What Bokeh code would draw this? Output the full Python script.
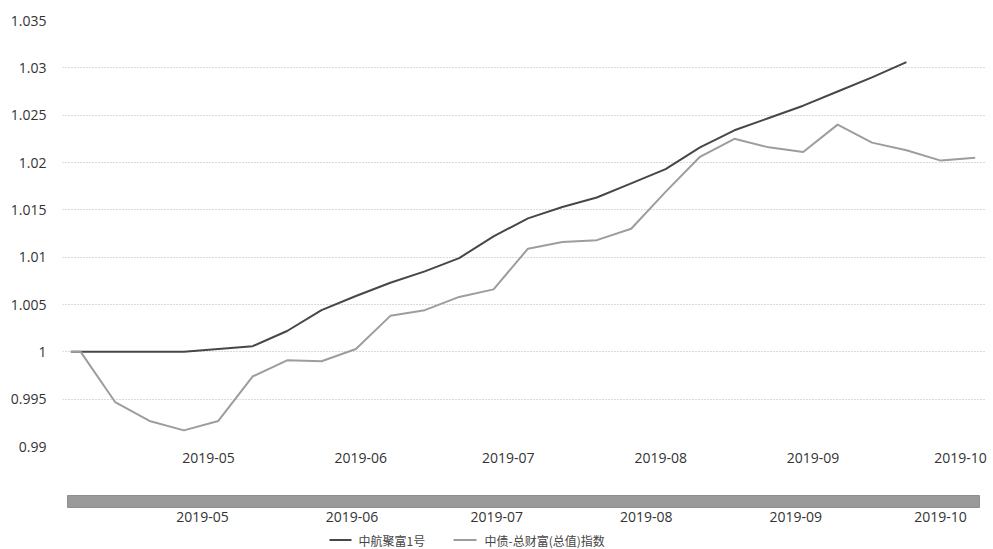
import pandas as pd
import numpy as np
from bokeh.plotting import figure
from bokeh.layouts import column
from bokeh.models import (ColumnDataSource, FixedTicker, CustomJSTickFormatter,
                          DatetimeTickFormatter, Range1d)
from bokeh.core.properties import value
from bokeh.embed import file_html
from bokeh.resources import INLINE

dates = ["2019-04-03", "2019-04-05", "2019-04-12", "2019-04-19", "2019-04-26",
         "2019-05-03", "2019-05-10", "2019-05-17", "2019-05-24", "2019-05-31",
         "2019-06-07", "2019-06-14", "2019-06-21", "2019-06-28", "2019-07-05",
         "2019-07-12", "2019-07-19", "2019-07-26", "2019-08-02", "2019-08-09",
         "2019-08-16", "2019-08-23", "2019-08-30", "2019-09-06", "2019-09-13",
         "2019-09-20", "2019-09-27", "2019-10-04"]

fund = [1.0000, 1.0000, 1.0000, 1.0000, 1.0000,
        1.0003, 1.0006, 1.0022, 1.0044, 1.0059,
        1.0073, 1.0085, 1.0099, 1.0122, 1.0141,
        1.0153, 1.0163, 1.0178, 1.0193, 1.0216,
        1.0234, 1.0247, 1.0260, 1.0275, 1.0290,
        1.0306, np.nan, np.nan]

index = [1.0000, 1.0000, 0.9947, 0.9927, 0.9917,
         0.9927, 0.9974, 0.9991, 0.9990, 1.0003,
         1.0038, 1.0044, 1.0058, 1.0066, 1.0109,
         1.0116, 1.0118, 1.0130, 1.0169, 1.0206,
         1.0225, 1.0216, 1.0211, 1.0240, 1.0221,
         1.0213, 1.0202, 1.0205]

series_names = ["中航聚富1号", "中债-总财富(总值)指数"]
y_ticks = [0.99, 0.995, 1.0, 1.005, 1.01, 1.015, 1.02, 1.025, 1.03, 1.035]
month_ticks = ["2019-05-01", "2019-06-01", "2019-07-01", "2019-08-01", "2019-09-01", "2019-10-01"]

FONT = "Open Sans"
TXT = "#333333"
C_FUND = "#474747"
C_INDEX = "#9d9d9d"

src = ColumnDataSource(dict(date=pd.to_datetime(dates), fund=fund, index=index))
tick_ms = [pd.Timestamp(d).value / 1e6 for d in month_ticks]

W = 993
BL, BR = 62, 8          # frame borders shared by both stacked figures
x_range = Range1d(pd.Timestamp("2019-04-01 07:10"), pd.Timestamp("2019-10-06 02:10"))
p = figure(width=W, height=465, x_axis_type="datetime", x_range=x_range,
           y_range=Range1d(0.99, 1.035), output_backend="svg", toolbar_location=None,
           min_border_left=BL, min_border_right=BR, min_border_top=20, min_border_bottom=0)
p.outline_line_color = None

p.line("date", "fund", source=src, line_color=C_FUND, line_width=2)
p.line("date", "index", source=src, line_color=C_INDEX, line_width=2)

p.yaxis.ticker = FixedTicker(ticks=y_ticks)
p.yaxis.formatter = CustomJSTickFormatter(code="return String(parseFloat(tick.toFixed(3)));")
p.xaxis.ticker = FixedTicker(ticks=tick_ms)
p.xaxis.formatter = DatetimeTickFormatter(days="%Y-%m", months="%Y-%m")
for ax in (p.xaxis, p.yaxis):
    ax.axis_line_color = None
    ax.major_tick_line_color = None
    ax.minor_tick_line_color = None
    ax.major_label_text_font = FONT
    ax.major_label_text_font_size = "14px"
    ax.major_label_text_color = TXT
p.yaxis.major_label_standoff = 10
p.xaxis.major_label_standoff = 0
p.xgrid.grid_line_color = None
p.ygrid.grid_line_color = "#b5b5b5"
p.ygrid.grid_line_dash = "1 2"

# navigator + legend, drawn in a bare frame (y measured in pixels from its top)
NH = 84
nav_range = Range1d(pd.Timestamp("2019-04-01 23:30"), pd.Timestamp("2019-10-10 07:30"))
n = figure(width=W, height=NH, x_axis_type="datetime", x_range=nav_range,
           y_range=Range1d(NH, 0), output_backend="svg", toolbar_location=None,
           min_border_left=BL, min_border_right=BR, min_border_top=0, min_border_bottom=0)
n.extra_x_ranges = {"px": Range1d(BL, W - BR)}
n.outline_line_color = None
n.grid.grid_line_color = None
n.axis.visible = False
n.quad(left=[67], right=[979], bottom=[42], top=[30], x_range_name="px",
       fill_color="#9a9a9a", line_color="#8e8e8e")
n.text(x=pd.to_datetime(month_ticks), y=[51] * len(month_ticks),
       text=[d[:7] for d in month_ticks], text_align="center", text_baseline="middle",
       text_font=value(FONT), text_font_size="14px", text_color=TXT)

# legend
leg_y = 74.5
n.segment(x0=[329, 453], y0=[leg_y, leg_y], x1=[351, 476], y1=[leg_y, leg_y],
          line_color=[C_FUND, C_INDEX], line_width=2, x_range_name="px")
n.text(x=[358, 484], y=[leg_y, leg_y], text=series_names, text_align="left",
       text_baseline="middle", text_font=value("Noto Sans CJK SC"), text_font_size="12px",
       text_color="#444444", x_range_name="px")

layout = column(p, n, spacing=0)
open("out.html", "w").write(file_html(layout, INLINE))
